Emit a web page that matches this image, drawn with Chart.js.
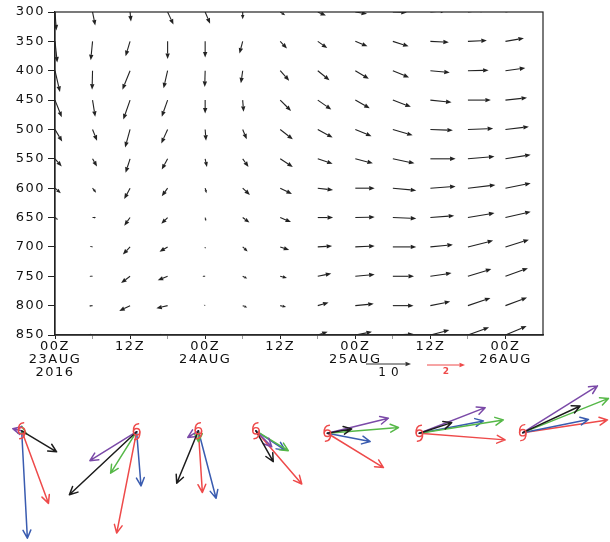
<!DOCTYPE html>
<html>
<head>
<meta charset="utf-8">
<script src="https://cdn.jsdelivr.net/npm/chart.js@4/dist/chart.umd.min.js"></script>
<style>
  html, body { margin: 0; padding: 0; background: #fff; }
  #wrap { position: relative; width: 610px; height: 542px; }
  #top { position: absolute; left: 0; top: 0; }
  #bottom { position: absolute; left: 0; top: 380px; }
</style>
</head>
<body>
<div id="wrap">
  <canvas id="top" width="610" height="380"></canvas>
  <canvas id="bottom" width="610" height="162"></canvas>
</div>
<script>
// ---------- DATA: time-pressure wind section ----------
const hours = [0, 6, 12, 18, 24, 30, 36, 42, 48, 54, 60, 66, 72];
const levels = [300, 350, 400, 450, 500, 550, 600, 650, 700, 750, 800, 850];
const tickHours = [0, 12, 24, 36, 48, 60, 72];
const tickLabels = [["00Z", "23AUG", "2016"], "12Z", ["00Z", "24AUG"], "12Z", ["00Z", "25AUG"], "12Z", ["00Z", "26AUG"]];

// u (east) and v (north) in m/s, one row per level, one column per time
const uWind = [
  [0.3, 0.6, 0.2, 1.3, 1.1, 0.0, 1.1, 1.8, 2.6, 3.1, 3.5, 4.0, 4.0],
  [0.5, -0.4, -1.0, 0.0, 0.0, -0.7, 1.5, 2.1, 2.7, 3.5, 4.1, 4.2, 4.1],
  [1.1, -0.1, -1.7, -0.9, -0.1, -0.4, 2.0, 2.6, 3.0, 3.6, 4.3, 4.6, 4.4],
  [1.5, 0.6, -1.5, -1.3, 0.0, 0.2, 2.4, 3.0, 3.2, 4.0, 4.7, 5.1, 4.8],
  [1.6, 1.0, -1.1, -1.4, 0.2, 0.9, 2.8, 3.3, 3.6, 4.4, 5.0, 5.6, 5.2],
  [1.5, 1.0, -1.0, -1.3, 0.4, 1.3, 2.8, 3.3, 3.9, 4.8, 5.6, 5.9, 5.6],
  [1.3, 0.8, -1.3, -1.3, 0.3, 1.6, 2.6, 3.4, 4.3, 5.2, 5.6, 6.1, 5.6],
  [0.7, 0.8, -1.3, -1.4, 0.2, 1.5, 2.4, 3.4, 4.3, 5.2, 5.3, 5.9, 5.6],
  [0.2, -0.6, -1.6, -1.8, 0.0, 1.1, 2.0, 3.2, 4.3, 5.2, 5.0, 5.6, 5.2],
  [0.1, -0.7, -2.0, -2.2, -0.6, 1.0, 1.5, 3.0, 4.3, 4.7, 4.7, 5.2, 5.0],
  [0.0, -0.8, -2.4, -2.5, -0.3, 1.0, 1.3, 2.4, 4.1, 4.6, 4.4, 5.0, 4.8],
  [0.0, -1.0, -2.5, -2.6, 0.0, 1.0, 1.2, 2.2, 3.7, 4.6, 4.2, 4.7, 4.7]
];
const vWind = [
  [-4.1, -3.0, -2.1, -2.8, -2.6, -1.6, -0.7, -0.8, -0.4, -0.1, 0.3, 0.5, 0.8],
  [-4.7, -4.2, -3.3, -3.9, -3.6, -2.7, -1.6, -1.5, -1.1, -1.1, -0.2, 0.2, 0.7],
  [-4.7, -4.2, -4.2, -3.9, -3.6, -2.8, -2.2, -2.1, -1.8, -1.5, -0.4, 0.1, 0.6],
  [-3.8, -3.7, -4.3, -3.7, -3.0, -2.6, -2.4, -2.1, -1.8, -1.5, -0.5, 0.0, 0.5],
  [-2.7, -2.5, -4.0, -3.1, -2.5, -2.2, -2.2, -1.8, -1.5, -1.3, -0.2, 0.2, 0.6],
  [-1.7, -1.7, -3.1, -2.4, -1.8, -1.8, -1.8, -1.1, -1.0, -1.0, 0.0, 0.5, 0.9],
  [-1.1, -1.0, -2.4, -1.8, -1.1, -1.5, -1.3, -0.4, 0.0, -0.5, 0.4, 0.7, 1.1],
  [-0.5, 0.0, -1.8, -1.4, -0.8, -1.1, -1.0, 0.0, 0.1, -0.2, 0.4, 1.0, 1.3],
  [-0.1, 0.2, -1.7, -1.1, -0.4, -1.0, -0.7, 0.2, 0.2, 0.0, 0.5, 1.4, 1.6],
  [0.0, 0.0, -1.5, -0.9, 0.0, -0.5, -0.4, 0.6, 0.4, 0.0, 0.7, 1.6, 1.8],
  [0.0, -0.1, -1.2, -0.6, 0.2, -0.4, -0.3, 0.7, 0.4, 0.0, 0.9, 1.7, 1.8],
  [0.0, 0.1, -1.0, -0.4, 0.0, -0.3, -0.2, 0.7, 0.7, 0.2, 1.1, 1.7, 2.0]
];
const refSpeed = 10;      // black reference vector
const refSpeedLower = 2;  // red reference vector (lower panel)

// ---------- DATA: storm-relative vectors (lower panel) ----------
const stormX = [1.14, 7.19, 10.44, 13.47, 17.23, 22.07, 27.51];
const stormY = [0.07, 0.02, 0.07, 0.07, -0.06, -0.06, -0.03];
const uRed = [1.41, -1.05, 0.21, 2.41, 2.95, 4.51, 4.46];
const vRed = [-3.83, -5.35, -3.26, -2.81, -1.81, -0.35, 0.67];
const uBlue = [0.30, 0.23, 0.93, 1.53, 2.25, 3.37, 3.46];
const vBlue = [-5.67, -2.86, -3.56, -1.02, -0.44, 0.65, 0.70];
const uGreen = [0.26, -1.37, 0.00, 1.70, 3.74, 4.42, 4.51];
const vGreen = [-0.16, -2.19, -0.58, -1.05, 0.30, 0.70, 1.81];
const uPurple = [-0.47, -2.46, -0.56, 0.83, 3.21, 3.46, 3.93];
const vPurple = [0.11, -1.53, -0.35, -0.84, 0.79, 1.35, 2.47];
const uBlack = [1.84, -3.54, -1.14, 0.91, 1.28, 1.70, 3.02];
const vBlack = [-1.11, -3.33, -2.77, -1.63, 0.23, 0.56, 1.41];

// ---------- STYLE ----------
const PX_PER_MS = 4.5;  // upper panel vector scale
const RED = "#ee4a4a", BLUE = "#3a5cb0", GREEN = "#56b848", PURPLE = "#7b4aa8", BLACK = "#1c1c1c";
Chart.defaults.font.family = "'DejaVu Sans', sans-serif";
Chart.defaults.color = "#111";

// ---------- UTIL ----------
function solidArrow(ctx, x0, y0, x1, y1) {
  const dx = x1 - x0, dy = y1 - y0, len = Math.hypot(dx, dy);
  if (len < 0.6) return;
  const head = Math.min(5.5, len * 0.6), half = head * 0.4;
  const ux = dx / len, uy = dy / len;
  const bx = x1 - ux * head, by = y1 - uy * head;
  ctx.beginPath(); ctx.moveTo(x0, y0); ctx.lineTo(bx, by); ctx.stroke();
  ctx.beginPath();
  ctx.moveTo(x1, y1);
  ctx.lineTo(bx - uy * half, by + ux * half);
  ctx.lineTo(bx + uy * half, by - ux * half);
  ctx.closePath(); ctx.fill();
}
function openArrow(ctx, x0, y0, x1, y1, head) {
  const a = Math.atan2(y1 - y0, x1 - x0), w = 0.45;
  ctx.beginPath();
  ctx.moveTo(x0, y0); ctx.lineTo(x1, y1);
  ctx.moveTo(x1 - head * Math.cos(a - w), y1 - head * Math.sin(a - w));
  ctx.lineTo(x1, y1);
  ctx.lineTo(x1 - head * Math.cos(a + w), y1 - head * Math.sin(a + w));
  ctx.stroke();
}
function stormSymbol(ctx, cx, cy) {
  ctx.beginPath(); ctx.arc(cx, cy, 3.2, 0, Math.PI * 2); ctx.stroke();
  ctx.beginPath(); ctx.moveTo(cx - 3.2, cy); ctx.quadraticCurveTo(cx - 3.8, cy - 7.5, cx + 2, cy - 8); ctx.stroke();
  ctx.beginPath(); ctx.moveTo(cx + 3.2, cy); ctx.quadraticCurveTo(cx + 3.8, cy + 7.5, cx - 2, cy + 8); ctx.stroke();
}

// ---------- UPPER PANEL ----------
const gridPoints = [];
levels.forEach(p => hours.forEach(h => gridPoints.push({ x: h, y: p })));

const spacing = { id: "spacing", beforeDraw(chart) { chart.ctx.letterSpacing = "1.5px"; } };

const windArrows = {
  id: "windArrows",
  afterDatasetsDraw(chart) {
    const { ctx, chartArea: a, scales: { x, y } } = chart;
    ctx.save();
    ctx.beginPath(); ctx.rect(a.left - 1, a.top, a.right - a.left + 1, a.bottom - a.top); ctx.clip();
    ctx.strokeStyle = "#222"; ctx.fillStyle = "#222"; ctx.lineWidth = 1.1;
    levels.forEach((p, i) => hours.forEach((h, j) => {
      const x0 = x.getPixelForValue(h), y0 = y.getPixelForValue(p);
      solidArrow(ctx, x0, y0, x0 + uWind[i][j] * PX_PER_MS, y0 - vWind[i][j] * PX_PER_MS);
    }));
    ctx.restore();
  },
  afterDraw(chart) {
    const { ctx, chartArea: a } = chart;
    ctx.save();
    ctx.strokeStyle = "#222"; ctx.lineWidth = 1.2;
    ctx.strokeRect(a.left, a.top, a.right - a.left, a.bottom - a.top);
    // reference vectors
    const lx = a.right - 177, ly = a.bottom + 29;
    ctx.strokeStyle = "#333"; ctx.fillStyle = "#333"; ctx.lineWidth = 1;
    solidArrow(ctx, lx, ly, lx + refSpeed * PX_PER_MS, ly);
    ctx.font = "12px 'DejaVu Sans'"; ctx.letterSpacing = "5px";
    ctx.textAlign = "center"; ctx.textBaseline = "middle";
    ctx.fillStyle = "#111";
    ctx.fillText(String(refSpeed), lx + 25, ly + 9);
    const rx = a.right - 116;
    ctx.strokeStyle = RED; ctx.fillStyle = RED;
    solidArrow(ctx, rx, ly + 1, rx + refSpeedLower * 19, ly + 1);
    ctx.letterSpacing = "0px";
    ctx.font = "bold 9px 'DejaVu Sans'";
    ctx.fillText(String(refSpeedLower), rx + 19, ly + 8);
    ctx.restore();
  }
};

new Chart(document.getElementById("top"), {
  type: "scatter",
  data: { datasets: [{ data: gridPoints, pointRadius: 0 }] },
  options: {
    responsive: false, animation: false,
    layout: { padding: { top: 12, right: 67, left: 0, bottom: 0 } },
    plugins: { legend: { display: false }, tooltip: { enabled: false } },
    scales: {
      x: {
        type: "linear", min: 0, max: 78,
        afterBuildTicks: s => { s.ticks = hours.map(h => ({ value: h })); },
        afterFit: s => { s.height = 45; },
        ticks: {
          autoSkip: false, maxRotation: 0, padding: 1,
          font: { size: 13, lineHeight: 1.0 },
          callback: v => { const i = tickHours.indexOf(v); return i >= 0 ? tickLabels[i] : ""; }
        },
        grid: {
          drawOnChartArea: false, tickLength: 4,
          color: c => (c.tick && tickHours.includes(c.tick.value)) ? "#222" : "#999"
        },
        border: { color: "#333", width: 1.5 }
      },
      y: {
        type: "linear", reverse: true, min: 300, max: 850,
        afterBuildTicks: s => { s.ticks = levels.map(p => ({ value: p })); },
        afterFit: s => { s.width = 55; },
        ticks: { padding: 3, font: { size: 13 }, callback: v => String(v) },
        grid: { drawOnChartArea: false, tickLength: 7, color: "#222" },
        border: { color: "#222", width: 1.2 }
      }
    }
  },
  plugins: [spacing, windArrows]
});

// ---------- LOWER PANEL ----------
const lowerSeries = [
  { color: RED, u: uRed, v: vRed },
  { color: BLUE, u: uBlue, v: vBlue },
  { color: GREEN, u: uGreen, v: vGreen },
  { color: PURPLE, u: uPurple, v: vPurple },
  { color: BLACK, u: uBlack, v: vBlack }
];

const stormArrows = {
  id: "stormArrows",
  afterDatasetsDraw(chart) {
    const { ctx, scales: { x, y } } = chart;
    ctx.save();
    ctx.lineWidth = 1.5; ctx.lineCap = "round"; ctx.lineJoin = "round";
    lowerSeries.forEach(s => {
      ctx.strokeStyle = s.color;
      stormX.forEach((sx, i) => {
        const sy = stormY[i];
        openArrow(ctx, x.getPixelForValue(sx), y.getPixelForValue(sy),
          x.getPixelForValue(sx + s.u[i]), y.getPixelForValue(sy + s.v[i]), 9);
      });
    });
    ctx.strokeStyle = RED; ctx.lineWidth = 1.4;
    stormX.forEach((sx, i) => stormSymbol(ctx, x.getPixelForValue(sx), y.getPixelForValue(stormY[i])));
    ctx.restore();
  }
};

new Chart(document.getElementById("bottom"), {
  type: "scatter",
  data: { datasets: [{ data: stormX.map((sx, i) => ({ x: sx, y: stormY[i] })), pointRadius: 0 }] },
  options: {
    responsive: false, animation: false,
    layout: { padding: 0 },
    plugins: { legend: { display: false }, tooltip: { enabled: false } },
    scales: {
      x: { type: "linear", display: false, min: 0, max: 32.1 },
      y: { type: "linear", display: false, min: -5.8, max: 2.75 }
    }
  },
  plugins: [stormArrows]
});
</script>
</body>
</html>
